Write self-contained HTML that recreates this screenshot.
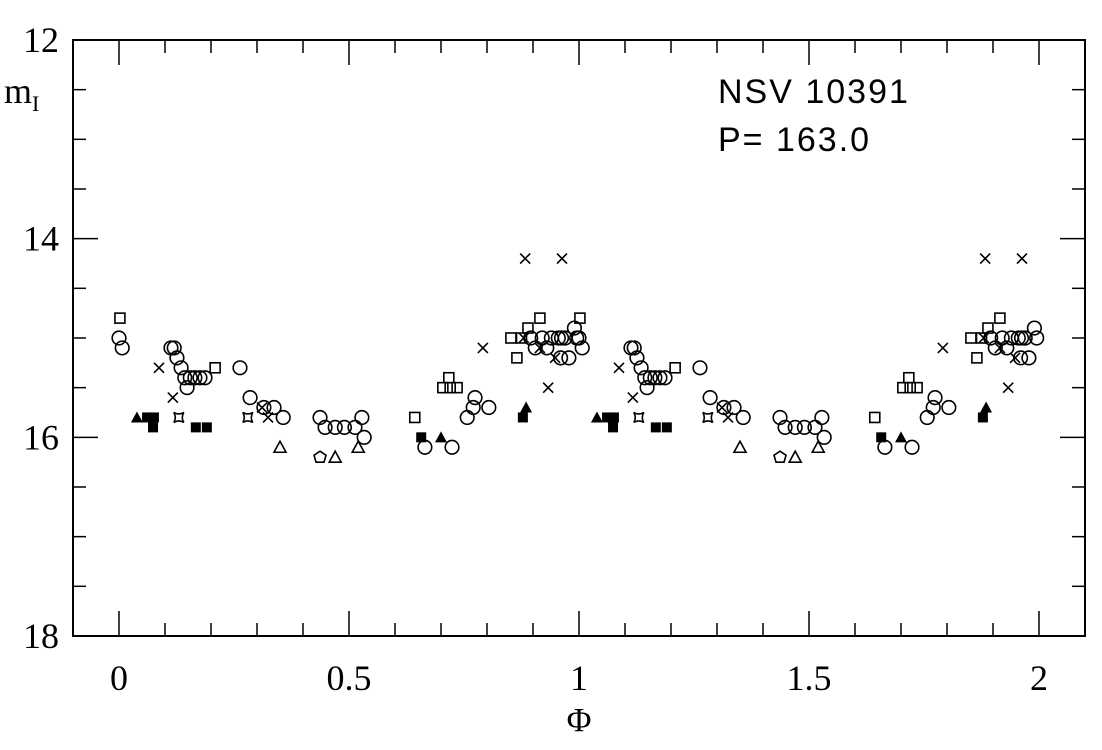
<!DOCTYPE html>
<html><head><meta charset="utf-8"><style>
html,body{margin:0;padding:0;background:#fff;}
svg{display:block;font-family:"Liberation Serif",serif;}
</style></head><body>
<svg id="chart" width="1102" height="750" viewBox="0 0 1102 750" xmlns="http://www.w3.org/2000/svg">
<rect x="73" y="40" width="1012" height="596" fill="none" stroke="#000" stroke-width="2"/>
<g id="ticks"></g>
<g id="marks"></g>
<text x="718" y="103" font-family="Liberation Sans, sans-serif" font-size="34" letter-spacing="2">NSV 10391</text>
<text x="718" y="151" font-family="Liberation Sans, sans-serif" font-size="34" letter-spacing="2">P= 163.0</text>
<text x="4" y="103" font-size="36">m<tspan font-size="22" dy="8">I</tspan></text>
<text x="579" y="731" font-size="34" text-anchor="middle">Φ</text>
</svg>
<script>
const phases=[0.002,0.209,0.643,0.717,0.704,0.72,0.735,0.852,0.865,0.889,0.915,0.875,
0,0.007,0.113,0.12,0.126,0.135,0.143,0.155,0.165,0.176,0.187,0.148,0.263,0.285,0.315,0.337,0.357,
0.437,0.448,0.47,0.49,0.513,0.528,0.533,0.665,0.724,0.757,0.77,0.774,0.804,
0.895,0.905,0.92,0.93,0.94,0.955,0.962,0.97,0.978,0.96,0.99,0.995,
0.087,0.117,0.311,0.324,0.791,0.883,0.963,0.933,0.948,0.88,0.915,
0.13,0.28,
0.039,0.885,0.7,
0.061,0.076,0.074,0.167,0.191,0.878,0.657,
0.35,0.52,0.47,
0.437];
const mags=[14.8,15.3,15.8,15.4,15.5,15.5,15.5,15.0,15.2,14.9,14.8,15.0,
15.0,15.1,15.1,15.1,15.2,15.3,15.4,15.4,15.4,15.4,15.4,15.5,15.3,15.6,15.7,15.7,15.8,
15.8,15.9,15.9,15.9,15.9,15.8,16.0,16.1,16.1,15.8,15.7,15.6,15.7,
15.0,15.1,15.0,15.1,15.0,15.0,15.0,15.0,15.2,15.2,14.9,15.0,
15.3,15.6,15.7,15.8,15.1,14.2,14.2,15.5,15.2,15.0,15.1,
15.8,15.8,
15.8,15.7,16.0,
15.8,15.8,15.9,15.9,15.9,15.8,16.0,
16.1,16.1,16.2,
16.2];
const kinds=["sq","sq","sq","sq","sq","sq","sq","sq","sq","sq","sq","sq",
"c","c","c","c","c","c","c","c","c","c","c","c","c","c","c","c","c",
"c","c","c","c","c","c","c","c","c","c","c","c","c",
"c","c","c","c","c","c","c","c","c","c","c","c",
"x","x","x","x","x","x","x","x","x","x","x",
"st","st",
"ft","ft","ft",
"fs","fs","fs","fs","fs","fs","fs",
"ot","ot","ot",
"pg"];
const xTicks=[0,0.5,1,1.5,2];
const yTicks=[12,14,16,18];
const NS="http://www.w3.org/2000/svg";
const X=v=>119+v*460, Y=v=>40+(v-12)*99.33;
const L=73,R=1085,T=40,B=636;
function mk(t,a,p){const e=document.createElementNS(NS,t);for(const k in a)e.setAttribute(k,a[k]);p.appendChild(e);return e;}
const tg=document.getElementById('ticks');
for(let i=0;i<=21;i++){const v=-0.1+i*0.1;const x=X(v);if(x<L||x>R)continue;const maj=Math.abs(v*2-Math.round(v*2))<1e-6;const len=maj?25:13;
const a=mk('line',{x1:x,x2:x,y1:B,y2:B-len,stroke:'#000','stroke-width':1.5},tg);
const b=mk('line',{x1:x,x2:x,y1:T,y2:T+len,stroke:'#000','stroke-width':1.5},tg);}
for(let v=12;v<=18.001;v+=0.5){const y=Y(v);const maj=Math.abs(v-Math.round(v/2)*2)<1e-6;const len=maj?25:13;
const a=mk('line',{x1:L,x2:L+len,y1:y,y2:y,stroke:'#000','stroke-width':1.5},tg);
const b=mk('line',{x1:R,x2:R-len,y1:y,y2:y,stroke:'#000','stroke-width':1.5},tg);}
xTicks.forEach(v=>{const t=mk('text',{x:X(v),y:690,'font-size':36,'text-anchor':'middle'},tg);t.textContent=String(v);
});
yTicks.forEach(v=>{const t=mk('text',{x:59,y:Y(v)+12,'font-size':36,'text-anchor':'end'},tg);t.textContent=String(v);
});
const mg=document.getElementById('marks');
function draw(k,x,y){let e;const s={stroke:'#000','stroke-width':1.6,fill:'none'};
if(k==='c')e=mk('circle',Object.assign({cx:x,cy:y,r:6.8},s),mg);
else if(k==='sq')e=mk('rect',Object.assign({x:x-5,y:y-5,width:10,height:10},s),mg);
else if(k==='fs')e=mk('rect',{x:x-5,y:y-5,width:10,height:10,fill:'#000'},mg);
else if(k==='x')e=mk('path',Object.assign({d:`M${x-5} ${y-5}L${x+5} ${y+5}M${x-5} ${y+5}L${x+5} ${y-5}`},s),mg);
else if(k==='ft')e=mk('polygon',{points:`${x},${y-6} ${x-6},${y+5} ${x+6},${y+5}`,fill:'#000'},mg);
else if(k==='ot')e=mk('polygon',Object.assign({points:`${x},${y-6} ${x-6},${y+5} ${x+6},${y+5}`},s),mg);
else if(k==='pg')e=mk('polygon',Object.assign({points:`${x},${y-6} ${x+6},${y-2} ${x+4},${y+5} ${x-4},${y+5} ${x-6},${y-2}`},s),mg);
else e=mk('path',Object.assign({d:`M${x-5} ${y-5}Q${x} ${y-2} ${x+5} ${y-5}Q${x+2} ${y} ${x+5} ${y+5}Q${x} ${y+2} ${x-5} ${y+5}Q${x-2} ${y} ${x-5} ${y-5}Z`},s),mg);
return e;}
phases.forEach((p,i)=>{[p,p+1].forEach(q=>{if(q>2.001)return;const e=draw(kinds[i],X(q),Y(mags[i]));

});});
</script>
</body></html>
